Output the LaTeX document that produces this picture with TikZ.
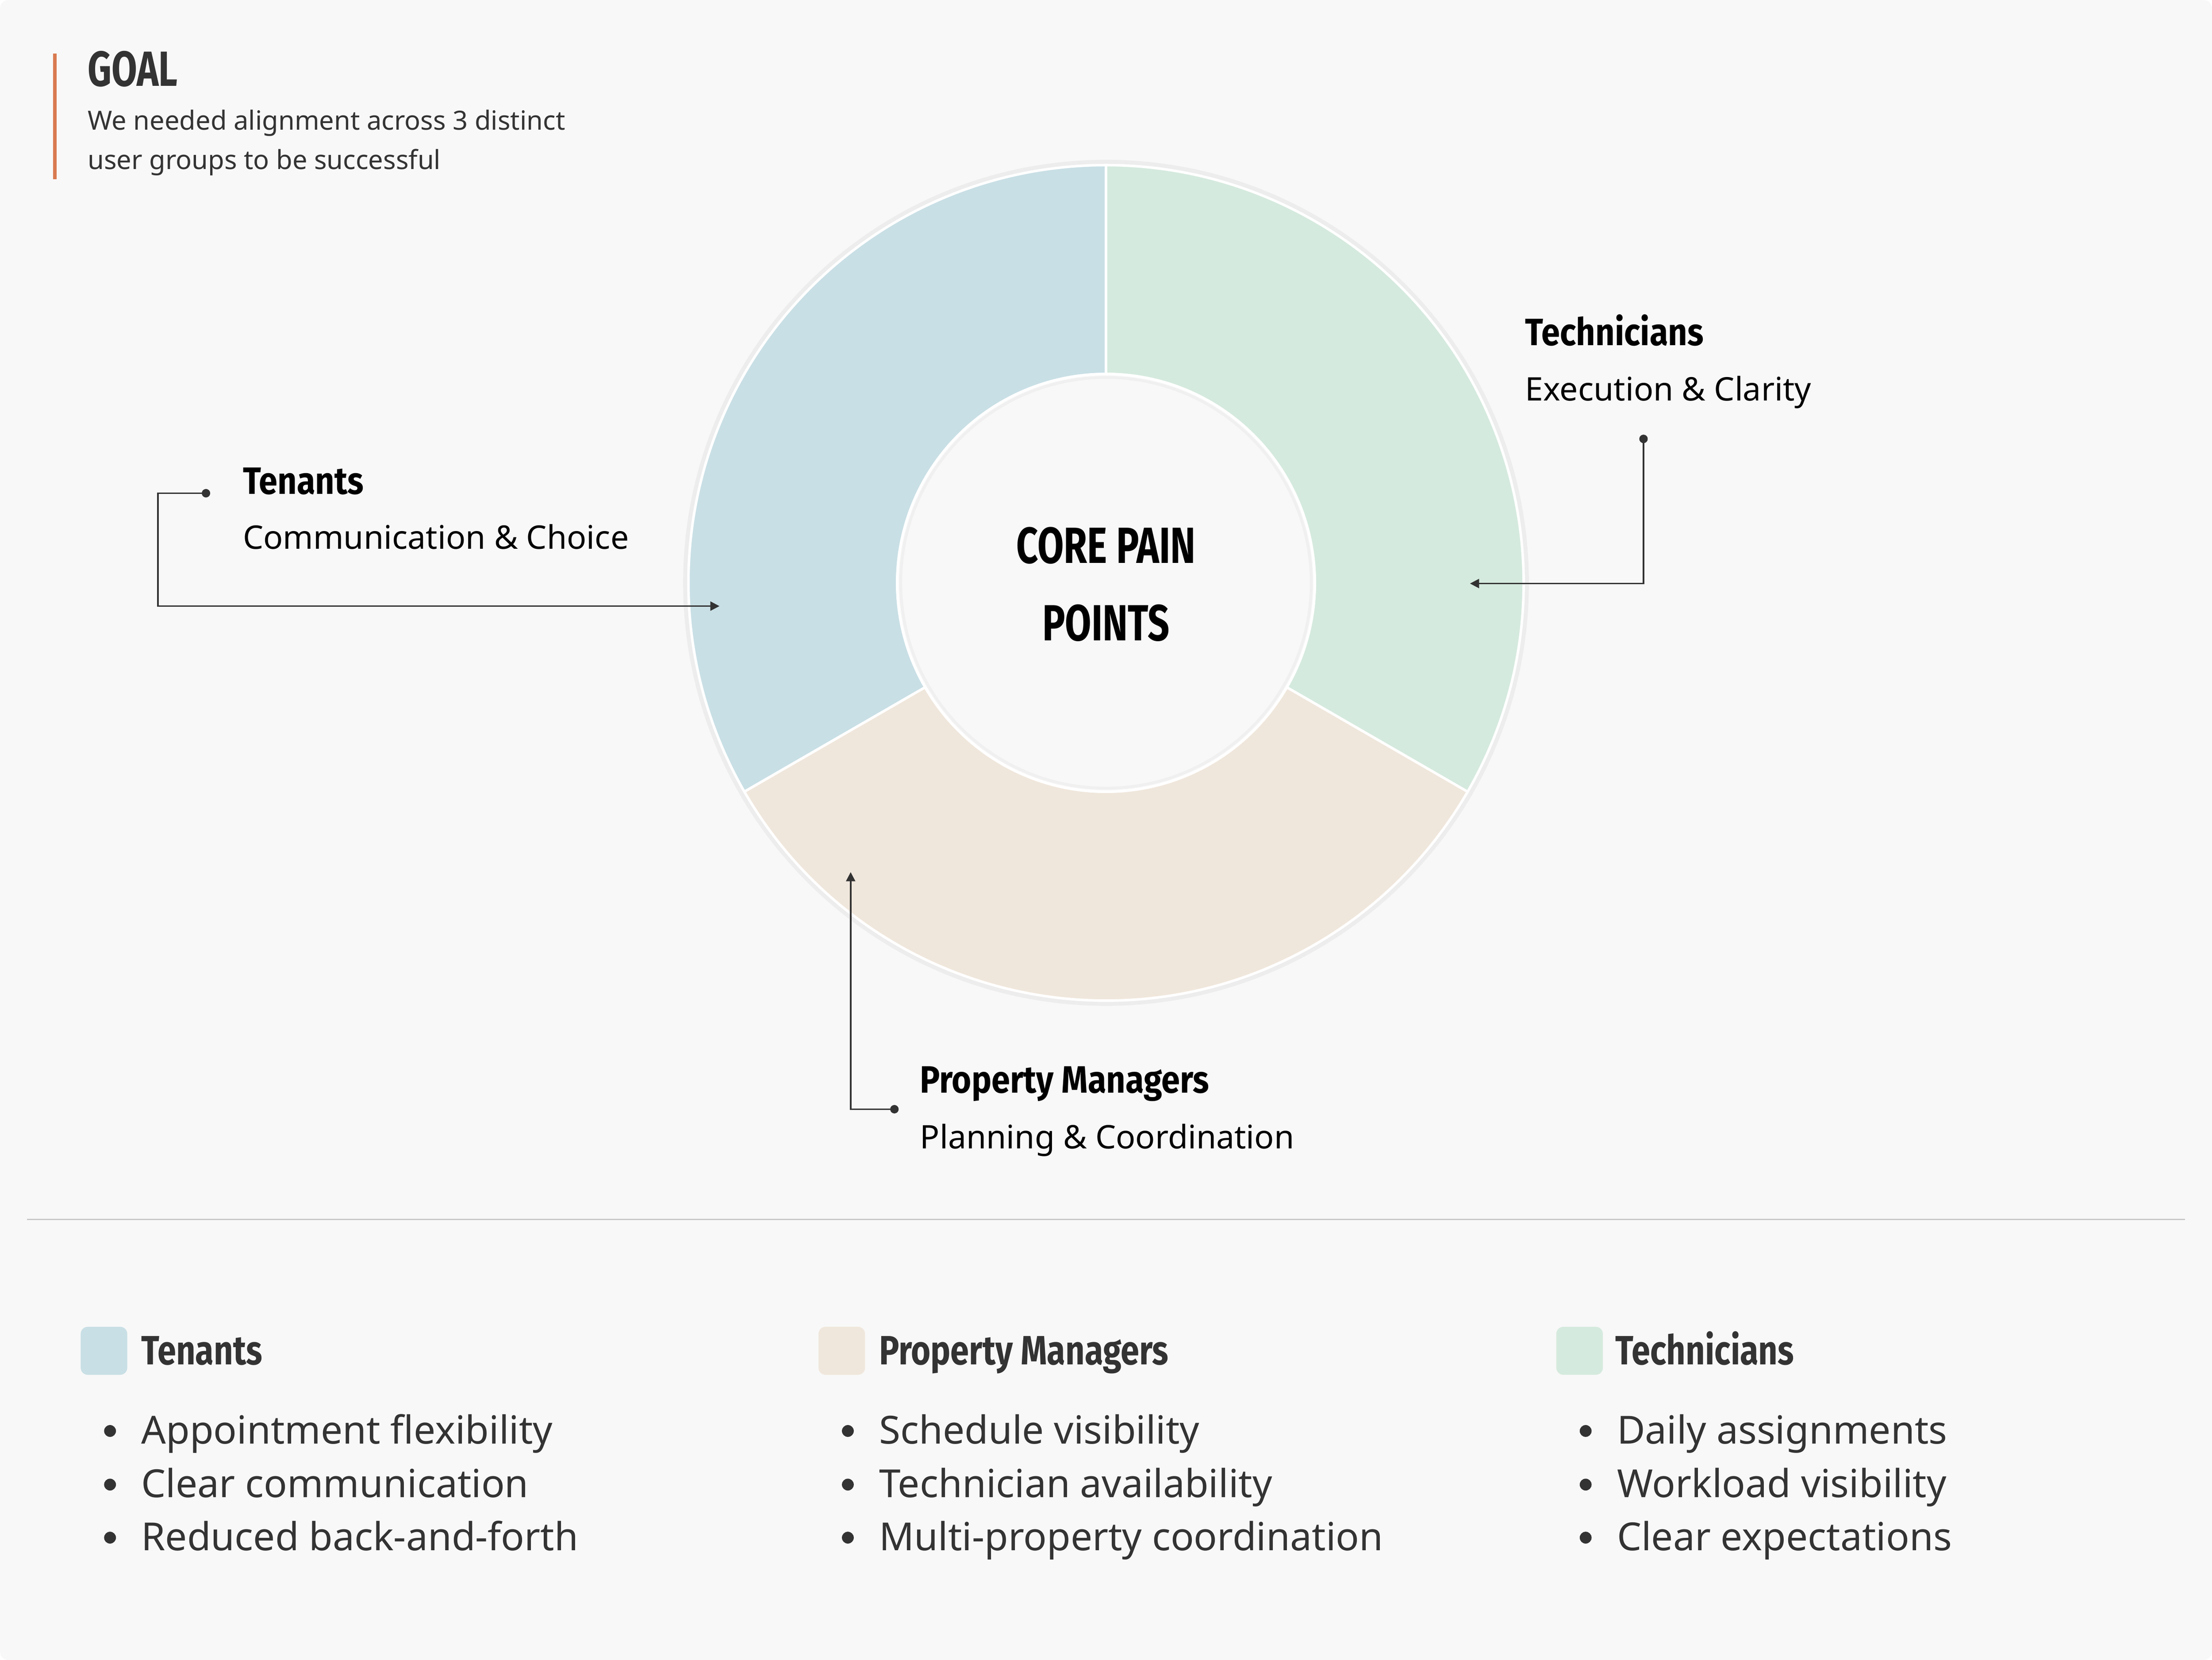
\documentclass[tikz,border=0pt]{standalone}
\usepackage{fontspec}
\setmainfont{Noto Sans}
\newfontfamily\headfont[FakeStretch=0.82]{Fira Sans}
\newfontfamily\labelfont[FakeStretch=0.88]{Fira Sans}
\newfontfamily\capsfont[FakeStretch=0.75]{Fira Sans}
\usetikzlibrary{arrows.meta,positioning}
\definecolor{pagegray}{RGB}{248,248,248}
\definecolor{ink}{RGB}{51,51,51}
\definecolor{goalorange}{RGB}{217,122,80}
\definecolor{tenantblue}{RGB}{200,223,229}
\definecolor{managerbeige}{RGB}{240,231,220}
\definecolor{techgreen}{RGB}{213,234,222}
\definecolor{rulegray}{RGB}{200,200,200}

\begin{document}
\begin{tikzpicture}[x=1pt,y=-1pt,
  groupname/.style={anchor=base west,inner sep=0pt,text=black,font=\labelfont\bfseries\fontsize{27}{30}\selectfont},
  groupnote/.style={anchor=base west,inner sep=0pt,text=black,font=\fontsize{23}{26}\selectfont},
  keyname/.style={anchor=base west,inner sep=0pt,text=ink,font=\headfont\bfseries\fontsize{29}{32}\selectfont},
  keyitem/.style={anchor=base west,inner sep=0pt,text=ink,font=\fontsize{27.4}{30}\selectfont},
  keybox/.style={anchor=north west,inner sep=0pt,minimum width=33pt,minimum height=34pt,rounded corners=5pt},
  link/.style={ink,line width=1.1pt,-{Triangle[length=6.5pt,width=6.5pt]}},
  seg/.style={draw=white,line width=1.8pt}]
\useasboundingbox (0,0) rectangle (1568,1176.3);
\fill[white] (0,0) rectangle (1568,1176.3);
\fill[pagegray,rounded corners=6pt] (0,0) rectangle (1568,1176.3);

% goal
\draw[goalorange,line width=2.5pt] (39,38) -- (39,127);
\node[anchor=base west,inner sep=0pt,text=ink,font=\capsfont\bfseries\fontsize{35}{38}\selectfont] (goal) at (62,61) {GOAL};
\node[anchor=base west,inner sep=0pt,text=ink,font=\fontsize{18.7}{22}\selectfont] (goalA) at (62,92) {We needed alignment across 3 distinct};
\node[anchor=base west,inner sep=0pt,text=ink,font=\fontsize{18.7}{22}\selectfont] (goalB) at (62,120) {user groups to be successful};

% donut
\begin{scope}[shift={(784,413)},yscale=-1]
\draw[black!7,line width=3.5pt] (0,0) circle (298);
\filldraw[seg,fill=tenantblue] (90:296) arc[start angle=90,end angle=210,radius=296] -- (210:148) arc[start angle=210,end angle=90,radius=148] -- cycle;
\filldraw[seg,fill=managerbeige] (210:296) arc[start angle=210,end angle=330,radius=296] -- (330:148) arc[start angle=330,end angle=210,radius=148] -- cycle;
\filldraw[seg,fill=techgreen] (-30:296) arc[start angle=-30,end angle=90,radius=296] -- (90:148) arc[start angle=90,end angle=-30,radius=148] -- cycle;
\fill[pagegray] (0,0) circle (147);
\draw[black!6,line width=2pt] (0,0) circle (145.5);
\draw[white,line width=1.8pt] (0,0) circle (148);
\end{scope}
\node[align=center,inner sep=0pt,text=black,font=\capsfont\bfseries\fontsize{36}{55}\selectfont] (core) at (784,414) {CORE PAIN\\POINTS};

% group labels
\node[groupname] (tenName) at (172,350) {Tenants};
\node[groupnote] (tenNote) at (172,389) {Communication \& Choice};
\node[groupname] (techName) at (1081,244.6) {Technicians};
\node[groupnote] (techNote) at (1081,284) {Execution \& Clarity};
\node[groupname] (pmName) at (652,774.5) {Property Managers};
\node[groupnote] (pmNote) at (652,814) {Planning \& Coordination};

% connectors
\coordinate (tenDot) at (146,349.5);
\coordinate (tenTip) at (510,429.5);
\coordinate (techDot) at (1165,311);
\coordinate (techTip) at (1042,413.5);
\coordinate (pmDot) at (634,786);
\coordinate (pmTip) at (603,618);
\draw[link] (tenDot) -- ++(-34,0) |- (tenTip);
\draw[link] (techDot) |- (techTip);
\draw[link] (pmDot) -| (pmTip);
\fill[ink] (tenDot) circle (3);
\fill[ink] (techDot) circle (3);
\fill[ink] (pmDot) circle (3);

% divider
\draw[rulegray,line width=1pt] (19,864) -- (1549,864);

% key
\node[keybox,fill=tenantblue] (tenKey) at (57,940) {};
\node[keybox,fill=managerbeige] (pmKey) at (580,940) {};
\node[keybox,fill=techgreen] (techKey) at (1103,940) {};
\node[keyname] (tenKeyName) at (100,967) {Tenants};
\node[keyname] (pmKeyName) at (623,967) {Property Managers};
\node[keyname] (techKeyName) at (1145,967) {Technicians};

\node[keyitem] (tenA) at (100,1023) {Appointment flexibility};
\node[keyitem] (tenB) at (100,1061) {Clear communication};
\node[keyitem] (tenC) at (100,1098.6) {Reduced back-and-forth};
\node[keyitem] (pmA) at (623,1023) {Schedule visibility};
\node[keyitem] (pmB) at (623,1061) {Technician availability};
\node[keyitem] (pmC) at (623,1098.6) {Multi-property coordination};
\node[keyitem] (techA) at (1146,1023) {Daily assignments};
\node[keyitem] (techB) at (1146,1061) {Workload visibility};
\node[keyitem] (techC) at (1146,1098.6) {Clear expectations};
% bullets
\foreach \item in {tenA,tenB,tenC,pmA,pmB,pmC,techA,techB,techC}
  \fill[ink] ([xshift=-22pt,yshift=9pt]\item.base west) circle (4.2);
\end{tikzpicture}
\end{document}
